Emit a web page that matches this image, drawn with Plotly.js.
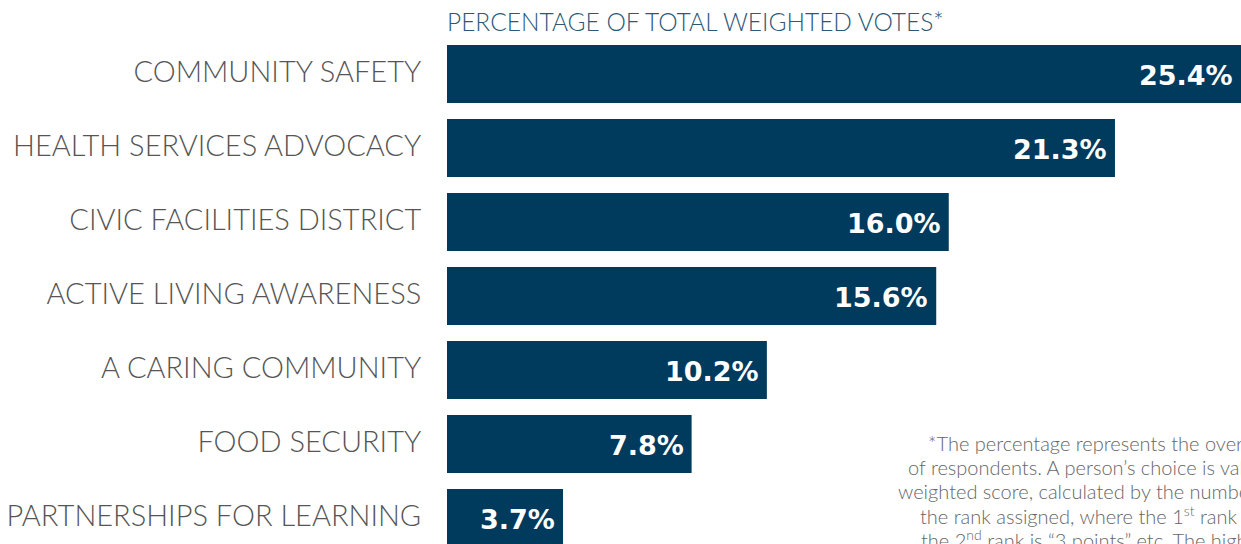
<!DOCTYPE html>
<html>
<head>
<meta charset="utf-8">
<script src="https://cdn.plot.ly/plotly-3.0.1.min.js"></script>
<style>html,body{margin:0;padding:0;background:#fff;}#chart{width:1241px;height:544px;}</style>
</head>
<body>
<div id="chart"></div>
<script>
const categories = ["COMMUNITY SAFETY","HEALTH SERVICES ADVOCACY","CIVIC FACILITIES DISTRICT","ACTIVE LIVING AWARENESS","A CARING COMMUNITY","FOOD SECURITY","PARTNERSHIPS FOR LEARNING"];
const values = [25.4, 21.3, 16.0, 15.6, 10.2, 7.8, 3.7];
const valueLabels = ["25.4%","21.3%","16.0%","15.6%","10.2%","7.8%","3.7%"];
const axisTitle = "PERCENTAGE OF TOTAL WEIGHTED VOTES*";
const footnoteLines = [
  "*The percentage represents the overall preference",
  "of respondents. A person’s choice is valued by a",
  "weighted score, calculated by the number of points for",
  "the rank assigned, where the 1<sup>st</sup> rank is “4 points”,",
  "the 2<sup>nd</sup> rank is “3 points” etc. The highest"
];

const W = 1241, H = 544, L = 447;
const xMax = (W - L) / 31.36;
const navy = "#003a5c";

const annotations = [];
values.forEach((v, i) => {
  annotations.push({
    x: Math.min(v, xMax), y: categories[i], xref: "x", yref: "y",
    text: valueLabels[i], showarrow: false, xanchor: "right", yanchor: "middle",
    xshift: -6, yshift: -1,
    font: {family: "DejaVu Sans", size: 27, color: "#ffffff", weight: 700}
  });
});
annotations.push({
  x: 0, y: 1 - 22 / H, xref: "paper", yref: "paper", xanchor: "left", yanchor: "middle",
  text: axisTitle, showarrow: false, xshift: -2,
  font: {family: "Lato", size: 24.5, color: "#2b5878", weight: 300}
});
const footLeft = [928, 908, 898, 920, 921];
const footY = [443, 467, 491, 515, 539];
footnoteLines.forEach((t, i) => {
  annotations.push({
    x: (footLeft[i] - L) / (W - L), y: 1 - footY[i] / H, xref: "paper", yref: "paper",
    xanchor: "left", yanchor: "middle", text: t, showarrow: false, xshift: -2,
    font: {family: "Lato", size: 20, color: "#666666", weight: 300}
  });
});

Plotly.newPlot("chart", [{
  type: "bar", orientation: "h", y: categories, x: values,
  marker: {color: navy}, width: 58 / 74, hoverinfo: "skip"
}], {
  width: W, height: H,
  margin: {l: L, r: 0, t: 0, b: 0, pad: 0},
  paper_bgcolor: "#ffffff", plot_bgcolor: "#ffffff",
  showlegend: false,
  xaxis: {range: [0, xMax], visible: false, fixedrange: true},
  yaxis: {
    type: "category", range: [(H - 74) / 74, -1], showgrid: false, zeroline: false,
    showline: false, ticks: "outside", ticklen: 19, tickcolor: "rgba(0,0,0,0)",
    ticklabelshift: 2,
    tickfont: {family: "Lato", size: 29, color: "#555555", weight: 300}, fixedrange: true
  },
  annotations: annotations
}, {displayModeBar: false, staticPlot: true});
</script>
</body>
</html>
